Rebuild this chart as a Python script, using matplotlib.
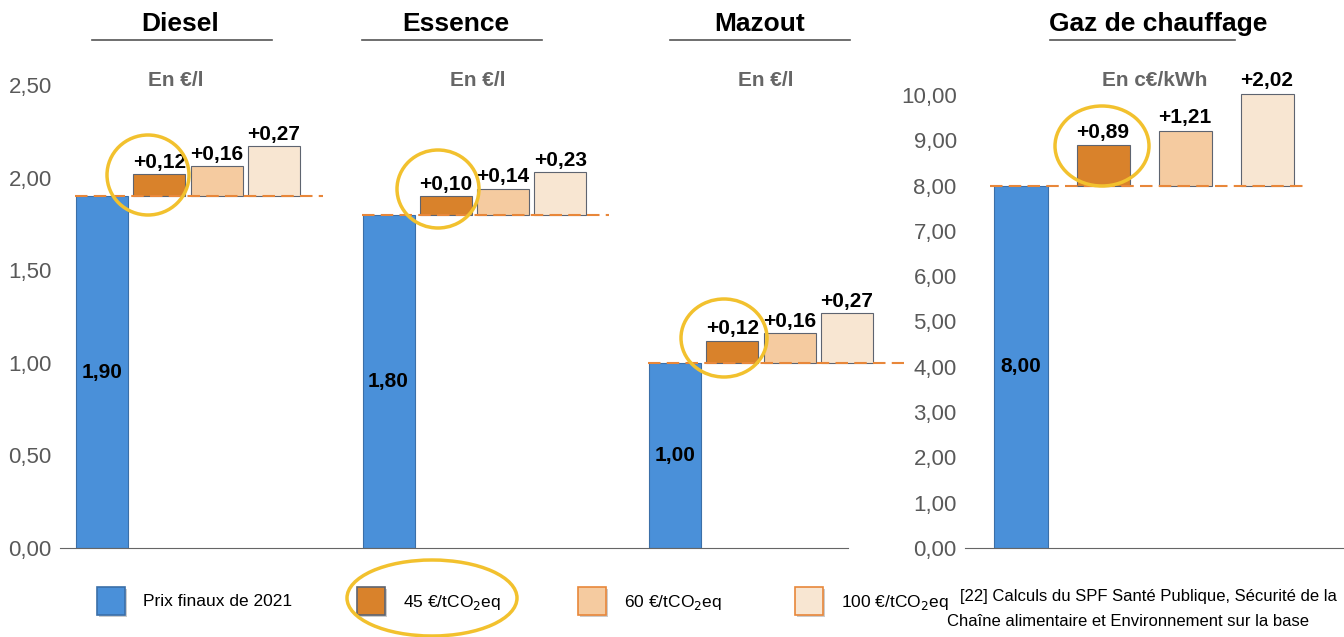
import matplotlib
matplotlib.use("Agg")
import matplotlib.pyplot as plt
from matplotlib.patches import Ellipse, Rectangle
from matplotlib.lines import Line2D

plt.rcParams['font.family'] = ['Liberation Sans', 'DejaVu Sans']

# données
carburants = ['Diesel', 'Essence', 'Mazout']
unites = ['En €/l', 'En €/l', 'En €/l']
prix_2021 = [1.90, 1.80, 1.00]
hausse_45 = [0.12, 0.10, 0.12]
hausse_60 = [0.16, 0.14, 0.16]
hausse_100 = [0.27, 0.23, 0.27]

gaz_prix = 8.00
gaz_hausses = [0.89, 1.21, 2.02]

legende = ['Prix finaux de 2021', '45 €/tCO$_2$eq', '60 €/tCO$_2$eq', '100 €/tCO$_2$eq']
ticks_gauche = [0, 0.5, 1.0, 1.5, 2.0, 2.5]
ticks_droite = list(range(0, 11))

c_bleu = '#4A90D9'
c_bleu_bord = '#3B6FA8'
c_orange = ['#D9822B', '#F5CBA0', '#F8E6D2']
c_bord = '#5E6470'
c_tirets = '#E8873A'
c_jaune = '#F2C12E'
c_gris = '#595959'

W, H = 1344, 637
fig = plt.figure(figsize=(W / 100, H / 100), dpi=100)


def fx(x):
    return x / W


def fy(y):
    return 1 - y / H


def fmt(v):
    return f"{v:.2f}".replace('.', ',')


# axe de gauche (€/l)
ax = fig.add_axes([fx(60), fy(548), fx(905 - 60), (548 - 85) / H])
unit = 57.3
ax.set_xlim(-42 / unit, -42 / unit + (905 - 60) / unit)
ax.set_ylim(0, 2.5)
larg = 52 / unit
for i, g in enumerate(carburants):
    x0 = i * 5
    ax.bar(x0, prix_2021[i], width=larg, color=c_bleu, edgecolor=c_bleu_bord, linewidth=0.8, zorder=2)
    ax.text(x0, prix_2021[i] / 2, fmt(prix_2021[i]), ha='center', va='center',
            fontsize=15, fontweight='bold', color='black')
    for j, h in enumerate([hausse_45[i], hausse_60[i], hausse_100[i]]):
        xj = x0 + 1 + j
        ax.bar(xj, h, bottom=prix_2021[i], width=larg, color=c_orange[j],
               edgecolor=c_bord, linewidth=0.8, zorder=2)
        ax.text(xj, prix_2021[i] + h + 0.012, '+' + fmt(h), ha='center', va='bottom',
                fontsize=15, fontweight='bold', color='black')
    fin = 3.85 if i < 2 else 4.0
    ax.plot([x0 - 0.47, x0 + fin], [prix_2021[i]] * 2, color=c_tirets, lw=1.5,
            ls=(0, (6, 3)), zorder=3)

ax.set_yticks(ticks_gauche)
ax.set_yticklabels([fmt(t) for t in ticks_gauche], fontsize=16, color=c_gris)
ax.tick_params(axis='y', length=0, pad=6)
ax.set_xticks([])
for s in ['top', 'right', 'left']:
    ax.spines[s].set_visible(False)
ax.spines['bottom'].set_color('#666666')
ax.spines['bottom'].set_bounds(-42 / unit, (848 - 102) / unit)

# axe de droite (c€/kWh)
ax2 = fig.add_axes([fx(965), fy(548), fx(W - 965), (548 - 95) / H])
u2 = 82
ax2.set_xlim(-56 / u2, -56 / u2 + (W - 965) / u2)
ax2.set_ylim(0, 10)
l2 = 53 / u2
ax2.bar(0, gaz_prix, width=l2, color=c_bleu, edgecolor=c_bleu_bord, linewidth=0.8, zorder=2)
ax2.text(0, gaz_prix / 2, fmt(gaz_prix), ha='center', va='center',
         fontsize=15, fontweight='bold', color='black')
for j, h in enumerate(gaz_hausses):
    ax2.bar(1 + j, h, bottom=gaz_prix, width=l2, color=c_orange[j],
            edgecolor=c_bord, linewidth=0.8, zorder=2, clip_on=False)
    ax2.text(1 + j, gaz_prix + h + 0.08, '+' + fmt(h), ha='center', va='bottom',
             fontsize=15, fontweight='bold', color='black')
ax2.plot([-0.38, 3.5], [gaz_prix] * 2, color=c_tirets, lw=1.5, ls=(0, (6, 3)), zorder=3)
ax2.set_yticks(ticks_droite)
ax2.set_yticklabels([fmt(t) for t in ticks_droite], fontsize=16, color=c_gris)
ax2.tick_params(axis='y', length=0, pad=6)
ax2.set_xticks([])
for s in ['top', 'right', 'left']:
    ax2.spines[s].set_visible(False)
ax2.spines['bottom'].set_color('#666666')

# titres et unités
titres = carburants + ['Gaz de chauffage']
tx = [180, 456, 760, 1158]
soul = [(92, 272), (362, 542), (670, 850), (1050, 1235)]
ux = [176, 478, 766, 1155]
for t, x, (a, b), xu, u in zip(titres, tx, soul, ux, unites + ['En c€/kWh']):
    fig.text(fx(x), fy(24), t, ha='center', va='center', fontsize=19, fontweight='bold')
    fig.add_artist(Line2D([fx(a), fx(b)], [fy(40), fy(40)], color='#555555', lw=1.2))
    fig.text(fx(xu), fy(80), u, ha='center', va='center', fontsize=15,
             fontweight='bold', color='#666666')

# cercles jaunes
for cx, cy, w, h in [(148, 175, 82, 80), (438, 189, 82, 78), (724, 338, 86, 78),
                     (1102, 146, 94, 80), (432, 598, 170, 76)]:
    fig.add_artist(Ellipse((fx(cx), fy(cy)), w / W, h / H, fill=False,
                           edgecolor=c_jaune, lw=2.5, zorder=10))

# légende
lx = [97, 357, 578, 795]
couleurs_leg = [c_bleu, c_orange[0], c_orange[1], c_orange[2]]
bords_leg = [c_bleu_bord, c_bord, '#E8873A', '#E8873A']
for x, c, b, lab in zip(lx, couleurs_leg, bords_leg, legende):
    fig.add_artist(Rectangle((fx(x + 2), fy(617)), 28 / W, 28 / H, facecolor='#CCCCCC',
                             edgecolor='none'))
    fig.add_artist(Rectangle((fx(x), fy(615)), 28 / W, 28 / H, facecolor=c, edgecolor=b, lw=1.2))
    fig.text(fx(x + 46), fy(602), lab, ha='left', va='center', fontsize=12.5)

# source
src = dict(ha='left', va='center', fontsize=12)
fig.text(fx(960), fy(596), '[22] Calculs du SPF Santé Publique, Sécurité de la', **src)
fig.text(fx(947), fy(622), 'Chaîne alimentaire et Environnement sur la base', **src)

fig.savefig('out.png', dpi=100)
